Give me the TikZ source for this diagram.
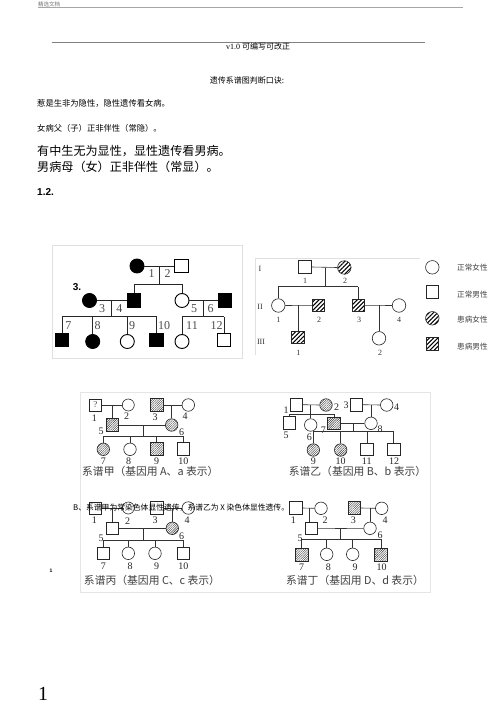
\documentclass[tikz,border=0pt]{standalone}
\usepackage{fontspec}
\setmainfont{Liberation Serif}
\newfontfamily\cjk{Noto Sans CJK SC}
\newfontfamily\lsans{Liberation Sans}
\usetikzlibrary{patterns.meta}
\begin{document}
\begin{tikzpicture}[x=1pt,y=-1pt,
  txtW/.style={inner sep=0pt,anchor=west},
  % pedigree 1
  pOneF/.style={circle,draw=black,line width=0.9pt,minimum size=14pt,inner sep=0pt},
  pOneM/.style={rectangle,draw=black,line width=0.9pt,minimum size=13.5pt,inner sep=0pt},
  pOneL/.style={line width=0.9pt,black!85},
  pOneLab/.style={inner sep=0pt,text=black!70,font=\fontsize{12}{12}\selectfont},
  % pedigree 2
  pTwoF/.style={circle,draw=black!85,line width=0.6pt,minimum size=13.5pt,inner sep=0pt},
  pTwoM/.style={rectangle,draw=black!85,line width=0.6pt,minimum size=12.5pt,inner sep=0pt},
  pTwoL/.style={line width=0.6pt,black!80},
  pTwoLab/.style={inner sep=0pt,text=black!80,font=\fontsize{8}{8}\selectfont},
  hatA/.style={pattern={Lines[angle=45,distance=3pt,line width=1.1pt]},pattern color=black},
  % charts
  chF/.style={circle,draw=black!85,line width=0.6pt,minimum size=12.5pt,inner sep=0pt},
  chM/.style={rectangle,draw=black!85,line width=0.6pt,minimum size=12.5pt,inner sep=0pt},
  chL/.style={line width=0.6pt,black!80},
  chLab/.style={inner sep=0pt,text=black!85,font=\fontsize{10}{10}\selectfont},
  hatB/.style={pattern={Lines[angle=45,distance=1.6pt,line width=0.4pt]},pattern color=black!80},
  chCap/.style={inner sep=0pt,text=black!75,font=\cjk\fontsize{10.8}{11}\selectfont}
]
\useasboundingbox (0,0) rectangle (500,708);
\fill[white] (0,0) rectangle (500,708);

% ---------- header ----------
\node[txtW,text=black!55,font=\cjk\fontsize{5.5}{6}\selectfont] (hdr) at (38,4.2) {精选文档};
\draw[black!35,line width=0.8pt] (38,7.5) -- (463,7.5);
\draw[black!50,line width=1pt] (51.7,42.3) -- (425,42.3);
\node[inner sep=0pt] (ver) at (258,46.8) {\fontsize{8}{9}\selectfont v1.0 {\cjk 可编写可改正}};

% ---------- text ----------
\node[inner sep=0pt,font=\cjk\fontsize{8}{8}\selectfont] (title) at (247,80) {遗传系谱图判断口诀:};
\node[txtW,font=\cjk\fontsize{8.3}{8}\selectfont] (l1) at (37,103.5) {惹是生非为隐性，隐性遗传看女病。};
\node[txtW,font=\cjk\fontsize{8.3}{8}\selectfont] (l2) at (37,128.3) {女病父（子）正非伴性（常隐）。};
\node[txtW,font=\cjk\fontsize{12.1}{12}\selectfont] (l3) at (37,150.7) {有中生无为显性，显性遗传看男病。};
\node[txtW,font=\cjk\fontsize{12.1}{12}\selectfont] (l4) at (37,166.7) {男病母（女）正非伴性（常显）。};
\node[txtW,font=\lsans\bfseries\fontsize{10}{10}\selectfont] (n12) at (37,192.5) {1.2.};

% ---------- pedigree 1 ----------
\draw[black!12,line width=0.6pt] (52,245) rectangle (242,358);
\node[pOneF,fill=black] (a1) at (137,266) {};
\node[pOneM] (a2) at (181.5,266) {};
\node[pOneF,fill=black] (a3) at (89.5,300.5) {};
\node[pOneM,fill=black] (a4) at (134,300.5) {};
\node[pOneF] (a5) at (182,300.5) {};
\node[pOneM,fill=black] (a6) at (225,300.5) {};
\node[pOneM,fill=black] (a7) at (62,340) {};
\node[pOneF,fill=black] (a8) at (92.7,341.5) {};
\node[pOneF] (a9) at (127.3,341.5) {};
\node[pOneM,fill=black] (a10) at (156.5,340) {};
\node[pOneF] (a11) at (182,341.5) {};
\node[pOneM] (a12) at (224,340) {};
\coordinate (am12) at (159.3,266);
\coordinate (as12) at (159.3,284);
\coordinate (am34) at (111.5,300.5);
\coordinate (as34) at (111.5,316.7);
\coordinate (am56) at (203,300.5);
\coordinate (as56) at (203,316.7);
\draw[pOneL] (a1.east) -- (a2.west);
\draw[pOneL] (am12) -- (as12);
\draw[pOneL] (a4.north |- as12) -- (a5.north |- as12);
\draw[pOneL] (a4.north) -- (a4.north |- as12);
\draw[pOneL] (a5.north) -- (a5.north |- as12);
\draw[pOneL] (a3.east) -- (a4.west);
\draw[pOneL] (am34) -- (as34);
\draw[pOneL] (a7.north |- as34) -- (a10.north |- as34);
\foreach \k in {7,8,9,10} \draw[pOneL] (a\k.north) -- (a\k.north |- as34);
\draw[pOneL] (a5.east) -- (a6.west);
\draw[pOneL] (am56) -- (as56);
\draw[pOneL] (a11.north |- as56) -- (a12.north |- as56);
\foreach \k in {11,12} \draw[pOneL] (a\k.north) -- (a\k.north |- as56);
\node[pOneLab] (al1) at (151.7,273.5) {1};
\node[pOneLab] (al2) at (167.7,273.5) {2};
\node[pOneLab] (al3) at (102,309) {3};
\node[pOneLab] (al4) at (119.3,309) {4};
\node[pOneLab] (al5) at (194,309) {5};
\node[pOneLab] (al6) at (210.7,309) {6};
\node[pOneLab] (al7) at (68.3,325.5) {7};
\node[pOneLab] (al8) at (97.5,325.5) {8};
\node[pOneLab] (al9) at (132,325.5) {9};
\node[pOneLab] (al10) at (164,325.5) {10};
\node[pOneLab] (al11) at (192,325.5) {11};
\node[pOneLab] (al12a) at (216.7,325.5) {12};
\node[inner sep=0pt,font=\lsans\bfseries\fontsize{10}{10}\selectfont] (n3) at (77,287.5) {3.};

% ---------- pedigree 2 ----------
\draw[black!12,line width=0.6pt] (255,355) -- (255,258) -- (420,258);
\node[pTwoLab] (r1) at (260,269) {I};
\node[pTwoLab] (r2) at (260,306.7) {II};
\node[pTwoLab] (r3) at (261,341.7) {III};
\node[pTwoM] (b1) at (305,267) {};
\node[pTwoF,hatA] (b2) at (344.3,267.5) {};
\node[pTwoF] (b3) at (278.3,305.5) {};
\node[pTwoM,hatA] (b4) at (318.3,305.3) {};
\node[pTwoM,hatA] (b5) at (358.3,305.3) {};
\node[pTwoF] (b6) at (399,305.5) {};
\node[pTwoM,hatA] (b7) at (298,337.5) {};
\node[pTwoF] (b8) at (379,338.3) {};
\coordinate (bm12) at (325,267.5);
\coordinate (bs12) at (325,286.7);
\draw[pTwoL] (b1.east) -- (b2.west);
\draw[pTwoL] (bm12) -- (bs12);
\draw[pTwoL] (b3.north |- bs12) -- (b5.north |- bs12);
\draw[pTwoL] (b3.north) -- (b3.north |- bs12);
\draw[pTwoL] (b5.north) -- (b5.north |- bs12);
\draw[pTwoL] (b3.east) -- (b4.west);
\coordinate (bm34) at (298,305.3);
\draw[pTwoL] (bm34) -- (b7.north);
\draw[pTwoL] (b5.east) -- (b6.west);
\coordinate (bm56) at (379,305.3);
\draw[pTwoL] (bm56) -- (b8.north);
\node[pTwoLab] (bl1) at (305,281) {1};
\node[pTwoLab] (bl2) at (345,281) {2};
\node[pTwoLab] (bl3) at (278.3,320) {1};
\node[pTwoLab] (bl4) at (319,320) {2};
\node[pTwoLab] (bl5) at (359,320) {3};
\node[pTwoLab] (bl6) at (399,320) {4};
\node[pTwoLab] (bl7) at (298.3,353.3) {1};
\node[pTwoLab] (bl8) at (380,353.3) {2};
% legend
\node[pTwoF] (g1) at (432.3,267.3) {};
\node[pTwoM] (g2) at (432.5,291.7) {};
\node[pTwoF,hatA] (g3) at (432.3,318.3) {};
\node[pTwoM,hatA] (g4) at (432.5,343.7) {};
\node[txtW,text=black!75,font=\cjk\fontsize{7.6}{8}\selectfont] (gt1) at (457,267.3) {正常女性};
\node[txtW,text=black!75,font=\cjk\fontsize{7.6}{8}\selectfont] (gt2) at (457,294.3) {正常男性};
\node[txtW,text=black!75,font=\cjk\fontsize{7.6}{8}\selectfont] (gt3) at (457,320) {患病女性};
\node[txtW,text=black!75,font=\cjk\fontsize{7.6}{8}\selectfont] (gt4) at (457,346.7) {患病男性};

% ---------- charts frame ----------
\draw[black!10,line width=0.6pt] (80,392) rectangle (430,592);

% ---------- 系谱甲 ----------
\node[chM,minimum size=12pt] (c1) at (95.3,405) {\fontsize{9}{9}\selectfont\color{black!70}?};
\node[chF,minimum size=12pt] (c2) at (128.3,405) {};
\node[chM,hatB] (c3) at (156.7,405) {};
\node[chF] (c4) at (188.3,405) {};
\node[chM,hatB] (c5) at (112.3,425) {};
\node[chF,hatB] (c6) at (171.7,425) {};
\node[chF,hatB] (c7) at (103.3,449.3) {};
\node[chF] (c8) at (130,449.3) {};
\node[chM,hatB] (c9) at (156.7,449) {};
\node[chM] (c10) at (183.3,449) {};
\coordinate (cm12) at (112.3,405);
\coordinate (cm34) at (171.7,405);
\coordinate (cm56) at (143.3,425);
\coordinate (cs56) at (143.3,436);
\draw[chL] (c1.east) -- (c2.west);
\draw[chL] (cm12) -- (c5.north);
\draw[chL] (c3.east) -- (c4.west);
\draw[chL] (cm34) -- (c6.north);
\draw[chL] (c5.east) -- (c6.west);
\draw[chL] (cm56) -- (cs56);
\draw[chL] (c7.north |- cs56) -- (c10.north |- cs56);
\foreach \k in {7,8,9,10} \draw[chL] (c\k.north) -- (c\k.north |- cs56);
\node[chLab] (cl1) at (94.3,418) {1};
\node[chLab] (cl2) at (126.7,416.5) {2};
\node[chLab] (cl3) at (155,417.5) {3};
\node[chLab] (cl4) at (185,416.5) {4};
\node[chLab] (cl5) at (101,431) {5};
\node[chLab] (cl6) at (181.7,432) {6};
\node[chLab] (cl7) at (103.3,461.7) {7};
\node[chLab] (cl8) at (128.5,461.7) {8};
\node[chLab] (cl9) at (156.7,461.7) {9};
\node[chLab] (cl10) at (183.3,461.7) {10};
\node[chCap] (capA) at (150.3,471.7) {系谱甲（基因用 A、a 表示）};

% ---------- 系谱乙 ----------
\node[chM] (d1) at (296.3,404.7) {};
\node[chF,hatB] (d2) at (326,405) {};
\node[chM] (d3) at (356.3,404.7) {};
\node[chF] (d4) at (386.7,405) {};
\node[chM] (d5) at (289.3,423) {};
\node[chF] (d6) at (310.7,425) {};
\node[chM,hatB] (d7) at (334,423.3) {};
\node[chF] (d8) at (371,423.3) {};
\node[chF,hatB] (d9) at (313.3,450) {};
\node[chF,hatB] (d10) at (340.7,450) {};
\node[chM] (d11) at (367,449.3) {};
\node[chM] (d12) at (393.7,449.3) {};
\coordinate (dm12) at (310.7,405);
\coordinate (ds12) at (310.7,414);
\coordinate (dm34) at (371,405);
\coordinate (dm78) at (353.3,423.3);
\coordinate (ds78) at (353.3,431.7);
\draw[chL] (d1.east) -- (d2.west);
\draw[chL] (dm12) -- (ds12);
\draw[chL] (d5.north |- ds12) -- (d7.north |- ds12);
\foreach \k in {5,6,7} \draw[chL] (d\k.north) -- (d\k.north |- ds12);
\draw[chL] (d3.east) -- (d4.west);
\draw[chL] (dm34) -- (d8.north);
\draw[chL] (d7.east) -- (d8.west);
\draw[chL] (dm78) -- (ds78);
\draw[chL] (d9.north |- ds78) -- (d12.north |- ds78);
\foreach \k in {9,10,11,12} \draw[chL] (d\k.north) -- (d\k.north |- ds78);
\node[chLab] (dl1) at (286,410) {1};
\node[chLab] (dl2) at (336.7,407) {2};
\node[chLab] (dl3) at (346,405.5) {3};
\node[chLab] (dl4) at (396.7,407) {4};
\node[chLab] (dl5) at (286,435) {5};
\node[chLab] (dl6) at (309.3,437) {6};
\node[chLab] (dl7) at (323.3,430) {7};
\node[chLab] (dl8) at (380,429.5) {8};
\node[chLab] (dl9) at (313.3,461.5) {9};
\node[chLab] (dl10) at (340.7,461.5) {10};
\node[chLab] (dl11) at (366.7,461.5) {11};
\node[chLab] (dl12) at (394,461.5) {12};
\node[chCap] (capB) at (357.5,471.7) {系谱乙（基因用 B、b 表示）};

% ---------- 系谱丙 ----------
\node[chM,minimum size=12pt] (e1) at (95.3,508) {};
\node[chF,minimum size=12pt] (e2) at (128.3,508) {};
\node[chM] (e3) at (156.7,508) {};
\node[chF] (e4) at (188.3,508) {};
\node[chM] (e5) at (112.3,528.3) {};
\node[chF,hatB] (e6) at (172.3,528.3) {};
\node[chM] (e7) at (103.3,553.3) {};
\node[chF] (e8) at (128.3,553.3) {};
\node[chF] (e9) at (155,553.3) {};
\node[chM] (e10) at (183.3,553.3) {};
\coordinate (em12) at (112.3,508);
\coordinate (em34) at (172.3,508);
\coordinate (em56) at (143.3,528.3);
\coordinate (es56) at (143.3,540);
\draw[chL] (e1.east) -- (e2.west);
\draw[chL] (em12) -- (e5.north);
\draw[chL] (e3.east) -- (e4.west);
\draw[chL] (em34) -- (e6.north);
\draw[chL] (e5.east) -- (e6.west);
\draw[chL] (em56) -- (es56);
\draw[chL] (e7.north |- es56) -- (e10.north |- es56);
\foreach \k in {7,8,9,10} \draw[chL] (e\k.north) -- (e\k.north |- es56);
\node[chLab] (el1) at (94.3,520.5) {1};
\node[chLab] (el2) at (127.5,521) {2};
\node[chLab] (el3) at (155,520.5) {3};
\node[chLab] (el4) at (187,520) {4};
\node[chLab] (el5) at (101,538.5) {5};
\node[chLab] (el6) at (181.7,536) {6};
\node[chLab] (el7) at (103.3,566.7) {7};
\node[chLab] (el8) at (130,566.7) {8};
\node[chLab] (el9) at (156.7,566.7) {9};
\node[chLab] (el10) at (183.3,566.7) {10};
\node[chCap] (capC) at (152,580) {系谱丙（基因用 C、c 表示）};

% ---------- 系谱丁 ----------
\node[chM] (f1) at (296,508) {};
\node[chF] (f2) at (321,508.3) {};
\node[chM,hatB] (f3) at (354.5,508) {};
\node[chF] (f4) at (381.7,508.3) {};
\node[chM,minimum size=12pt] (f5) at (310.8,528.7) {};
\node[chF] (f6) at (370,528.3) {};
\node[chM,hatB] (f7) at (301.7,555) {};
\node[chF] (f8) at (326.7,554.3) {};
\node[chF] (f9) at (352.7,554.3) {};
\node[chM,hatB] (f10) at (380.8,555) {};
\coordinate (fm12) at (309,508.2);
\coordinate (fm34) at (370,508.2);
\coordinate (fm56) at (340.7,528.5);
\coordinate (fs56) at (340.7,539);
\draw[chL] (f1.east) -- (f2.west);
\draw[chL] (fm12) -- (fm12 |- f5.north);
\draw[chL] (f3.east) -- (f4.west);
\draw[chL] (fm34) -- (f6.north);
\draw[chL] (f5.east) -- (f6.west);
\draw[chL] (fm56) -- (fs56);
\draw[chL] (f7.north |- fs56) -- (f10.north |- fs56);
\foreach \k in {7,8,9,10} \draw[chL] (f\k.north) -- (f\k.north |- fs56);
\node[chLab] (fl1) at (293.3,520.5) {1};
\node[chLab] (fl2) at (325,520.5) {2};
\node[chLab] (fl3) at (353.3,520.5) {3};
\node[chLab] (fl4) at (385,520.5) {4};
\node[chLab] (fl5) at (300,538.5) {5};
\node[chLab] (fl6) at (380,535.5) {6};
\node[chLab] (fl7) at (301.7,567.7) {7};
\node[chLab] (fl8) at (328.3,567.7) {8};
\node[chLab] (fl9) at (355,567.7) {9};
\node[chLab] (fl10) at (381.7,567.7) {10};
\node[chCap] (capD) at (355,580) {系谱丁（基因用 D、d 表示）};

% ---------- overlay text ----------
\node[txtW,font=\cjk\fontsize{7.8}{8}\selectfont] (btxt) at (73,507.5) {B、系谱甲为常染色体显性遗传，系谱乙为 X 染色体显性遗传。};
\node[inner sep=0pt,font=\lsans\bfseries\fontsize{5}{5}\selectfont] (one) at (51,570.5) {1};
\node[inner sep=0pt,font=\fontsize{20}{20}\selectfont] (pg) at (43,694) {1};
\end{tikzpicture}
\end{document}
